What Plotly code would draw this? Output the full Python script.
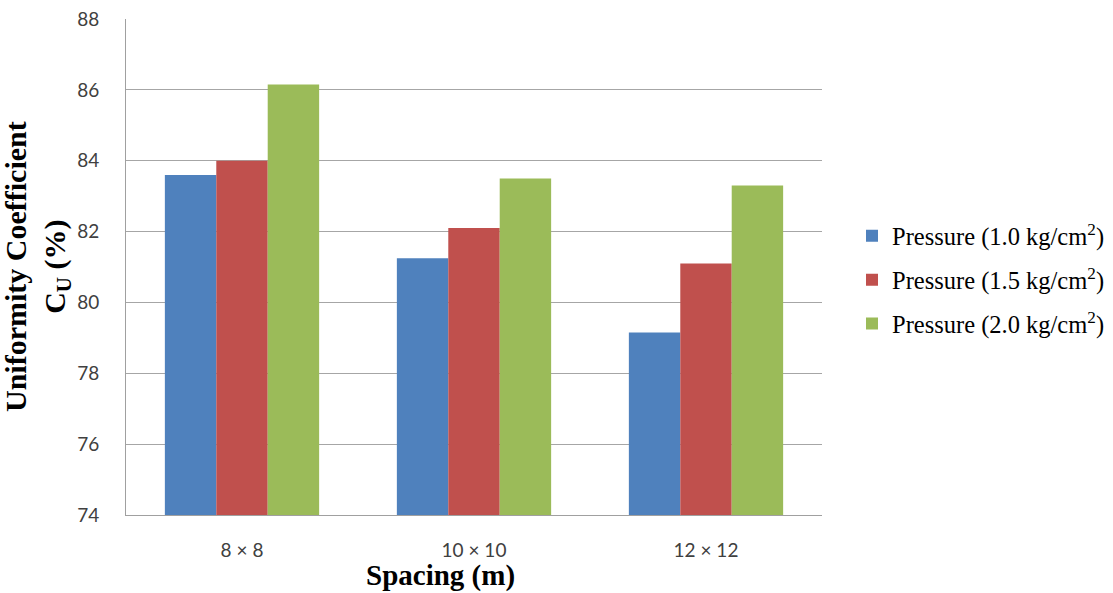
import plotly.graph_objects as go

categories = ["8 × 8", "10 × 10", "12 × 12"]
series_names = [
    "Pressure (1.0 kg/cm<sup>2</sup>)",
    "Pressure (1.5 kg/cm<sup>2</sup>)",
    "Pressure (2.0 kg/cm<sup>2</sup>)",
]
p10 = [83.6, 81.25, 79.15]
p15 = [84.0, 82.1, 81.1]
p20 = [86.15, 83.5, 83.3]
colors = ["#4F81BD", "#C0504D", "#9BBB59"]
y_ticks = [74, 76, 78, 80, 82, 84, 86, 88]

fig = go.Figure()
for i, (name, vals) in enumerate(zip(series_names, [p10, p15, p20])):
    fig.add_trace(go.Bar(
        x=categories, y=vals, name=name,
        marker=dict(color=colors[i], line=dict(width=0)),
        legendgroup=str(i),
    ))

W, H = 1113, 593
L, R, T, B = 126, 291, 19, 78

fig.update_layout(
    width=W, height=H,
    margin=dict(l=L, r=R, t=T, b=B, pad=0, autoexpand=False),
    paper_bgcolor="white", plot_bgcolor="white",
    barmode="group", bargap=0.335, bargroupgap=0,
    showlegend=True,
    legend=dict(
        x=(852 - L) / (W - L - R), xanchor="left",
        y=0.474, yanchor="middle",
        font=dict(family="Liberation Serif", size=24.5, color="black"),
        traceorder="grouped", tracegroupgap=9,
        bgcolor="rgba(0,0,0,0)",
    ),
    xaxis=dict(
        showgrid=False, showline=True, linecolor="#A0A0A0", linewidth=1,
        ticks="", ticklabelstandoff=18,
        tickfont=dict(family="Lato", size=19, color="#404040"),
    ),
    yaxis=dict(
        range=[74, 88], tickvals=y_ticks, ticktext=[str(v) for v in y_ticks],
        showgrid=True, gridcolor="#A6A6A6", gridwidth=1,
        showline=True, linecolor="#A0A0A0", linewidth=1,
        ticks="", ticklabelstandoff=22, zeroline=False,
        tickfont=dict(family="Lato", size=19, color="#404040"),
    ),
    annotations=[
        dict(
            text="<b>Uniformity Coefficient<br>C<sub>U</sub> (%)</b>",
            xref="paper", yref="paper",
            x=(37 - L) / (W - L - R), y=0.5,
            xanchor="center", yanchor="middle",
            textangle=-90, showarrow=False,
            font=dict(family="Liberation Serif", size=30, color="black"),
        ),
        dict(
            text="<b>Spacing (m)</b>",
            xref="paper", yref="paper",
            x=(440 - L) / (W - L - R), y=(H - B - 575) / (H - T - B),
            xanchor="center", yanchor="middle",
            showarrow=False,
            font=dict(family="Liberation Serif", size=29, color="black"),
        ),
    ],
)

fig.write_html(
    "out.html",
    config={"displayModeBar": False},
    post_script="document.body.style.margin='0';document.body.style.overflow='hidden';",
)
